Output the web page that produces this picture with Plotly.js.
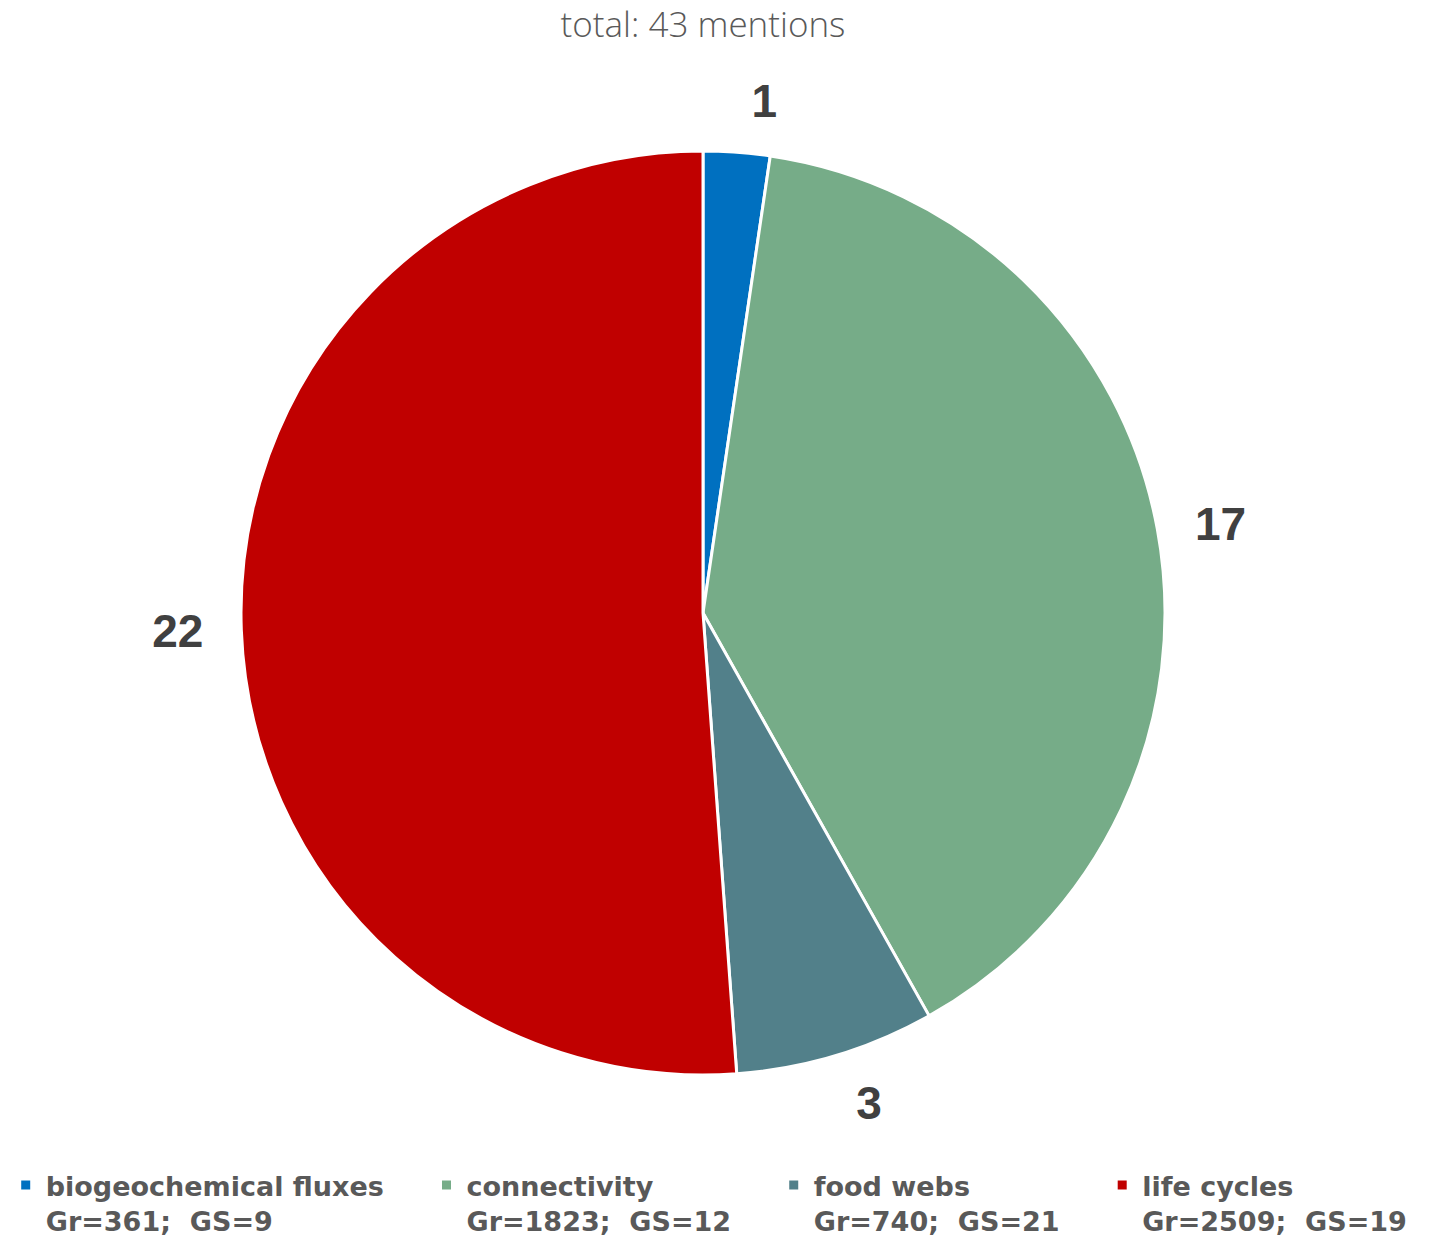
<!DOCTYPE html>
<html>
<head>
<meta charset="utf-8">
<script src="https://cdn.plot.ly/plotly-3.0.1.min.js"></script>
<style>html,body{margin:0;padding:0;background:#fff}#chart{width:1429px;height:1241px}</style>
</head>
<body>
<div id="chart"></div>
<script>
const categories = ["biogeochemical fluxes", "connectivity", "food webs", "life cycles"];
const mentions = [1, 17, 3, 22];
const grValues = [361, 1823, 740, 2509];
const gsValues = [9, 12, 21, 19];
const colors = ["#0070C0", "#76AC88", "#52808A", "#C00000"];
const titleText = "total: 43 mentions";

const W = 1429, H = 1241;
const cx = 703, cy = 613, R = 462, Rlab = 487;
const padCounts = [4, 4, 4, 0];
const labels = categories.map((c, i) => {
  const pad = "&nbsp;".repeat(padCounts[i]);
  return c + pad + "<br>Gr=" + grValues[i] + ";  GS=" + gsValues[i] + pad;
});

function dom(r) {
  return {x: [(cx - r) / W, (cx + r) / W], y: [1 - (cy + r) / H, 1 - (cy - r) / H]};
}

const pieMain = {
  type: "pie",
  labels: labels,
  values: mentions,
  sort: false,
  direction: "clockwise",
  rotation: 0,
  domain: dom(R),
  marker: {colors: colors, line: {color: "#ffffff", width: 3}},
  textinfo: "none",
  hoverinfo: "label+value",
  showlegend: true
};

const pieLabels = {
  type: "pie",
  labels: labels,
  values: mentions,
  sort: false,
  direction: "clockwise",
  rotation: 0,
  domain: dom(Rlab),
  marker: {colors: ["rgba(0,0,0,0)", "rgba(0,0,0,0)", "rgba(0,0,0,0)", "rgba(0,0,0,0)"], line: {width: 0}},
  textinfo: "value",
  textposition: "outside",
  outsidetextfont: {family: "Liberation Sans, Arial, sans-serif", size: 46, color: "#404040", weight: "bold"},
  hoverinfo: "skip",
  showlegend: false
};

const layout = {
  width: W,
  height: H,
  margin: {l: 0, r: 0, t: 0, b: 0, autoexpand: false},
  paper_bgcolor: "#ffffff",
  plot_bgcolor: "#ffffff",
  title: {
    text: titleText,
    font: {family: "Open Sans, sans-serif", size: 35, color: "#595959", weight: 300},
    x: 703 / W, xanchor: "center",
    y: 1 - 12 / H, yref: "container", yanchor: "top"
  },
  legend: {
    orientation: "h",
    x: 0.004, xanchor: "left",
    y: 1 - 1161 / H, yanchor: "top",
    valign: "top",
    font: {family: "DejaVu Sans, sans-serif", size: 27, color: "#595959", weight: "bold"},
    itemwidth: 30,
    traceorder: "normal"
  }
};

Plotly.newPlot("chart", [pieMain, pieLabels], layout, {displayModeBar: false, staticPlot: true});
</script>
</body>
</html>
